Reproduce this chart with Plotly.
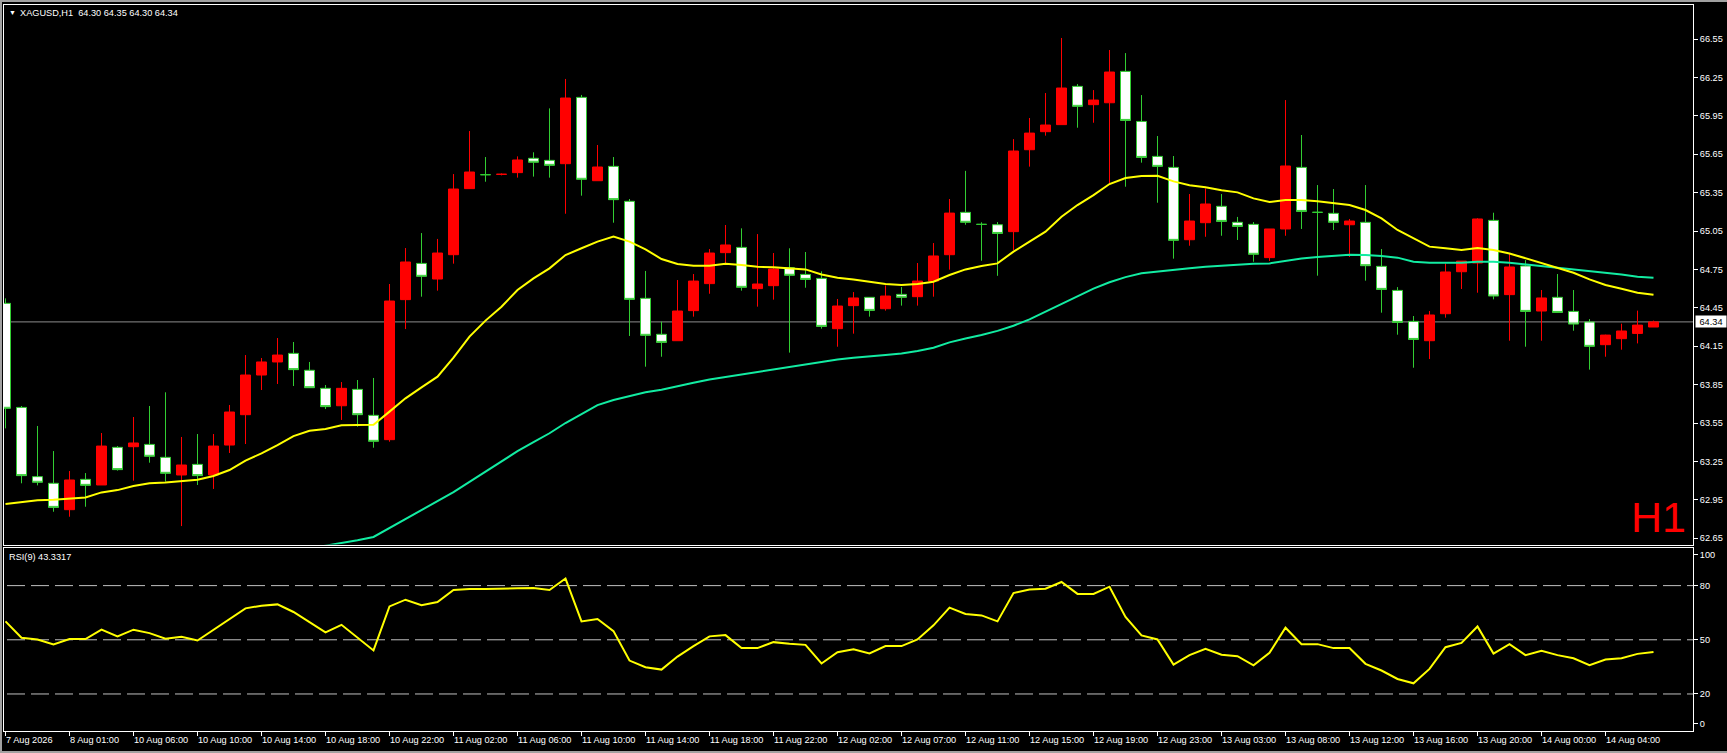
import plotly.graph_objects as go

# ---------------- data ----------------
symbol = "XAGUSD,H1"
rsi_label = "RSI(9) 43.3317"
period_label = "H1"

time_labels = ["7 Aug 2026", "8 Aug 01:00", "10 Aug 06:00", "10 Aug 10:00", "10 Aug 14:00",
               "10 Aug 18:00", "10 Aug 22:00", "11 Aug 02:00", "11 Aug 06:00", "11 Aug 10:00",
               "11 Aug 14:00", "11 Aug 18:00", "11 Aug 22:00", "12 Aug 02:00", "12 Aug 07:00",
               "12 Aug 11:00", "12 Aug 15:00", "12 Aug 19:00", "12 Aug 23:00", "13 Aug 03:00",
               "13 Aug 08:00", "13 Aug 12:00", "13 Aug 16:00", "13 Aug 20:00", "14 Aug 00:00",
               "14 Aug 04:00"]

price_ticks = [62.65, 62.95, 63.25, 63.55, 63.85, 64.15, 64.45, 64.75, 65.05, 65.35, 65.65, 65.95, 66.25, 66.55]
rsi_levels = [80, 50, 20]
rsi_tick_text = ["100", "80", "50", "20", "0"]

opens = [64.485, 63.672, 63.131, 63.079, 62.873, 63.110, 63.066, 63.360, 63.365, 63.383,
         63.282, 63.144, 63.227, 63.144, 63.378, 63.615, 63.925, 64.027, 64.094, 63.962,
         63.821, 63.685, 63.813, 63.610, 63.420, 64.514, 64.797, 64.675, 64.865, 65.381,
         65.490, 65.493, 65.506, 65.618, 65.602, 65.576, 66.094, 65.443, 65.555, 65.282,
         64.524, 64.243, 64.193, 64.428, 64.639, 64.881, 64.922, 64.600, 64.623, 64.763,
         64.711, 64.680, 64.287, 64.467, 64.532, 64.443, 64.555, 64.537, 64.659, 64.865,
         65.196, 65.102, 65.099, 65.045, 65.685, 65.826, 65.881, 66.180, 66.037, 66.052,
         66.297, 65.906, 65.633, 65.547, 64.982, 65.115, 65.243, 65.118, 65.102, 64.842,
         65.066, 65.547, 65.196, 65.188, 65.099, 65.118, 64.774, 64.586, 64.344, 64.193,
         64.404, 64.732, 64.800, 65.133, 64.553, 64.777, 64.425, 64.532, 64.422, 64.339,
         64.162, 64.209, 64.250, 64.30]
highs = [64.524, 63.683, 63.527, 63.331, 63.175, 63.159, 63.472, 63.370, 63.597, 63.683,
         63.790, 63.441, 63.464, 63.464, 63.691, 64.081, 64.058, 64.214, 64.183, 64.027,
         63.847, 63.870, 63.886, 63.902, 64.636, 64.917, 65.034, 64.988, 65.495, 65.831,
         65.628, 65.500, 65.633, 65.665, 66.008, 66.238, 66.113, 65.722, 65.628, 65.300,
         64.738, 64.342, 64.667, 64.714, 64.909, 65.097, 65.071, 65.026, 64.878, 64.915,
         64.886, 64.735, 64.519, 64.573, 64.532, 64.625, 64.612, 64.800, 64.956, 65.300,
         65.520, 65.118, 65.120, 65.768, 65.933, 66.128, 66.558, 66.198, 66.151, 66.464,
         66.440, 66.112, 65.792, 65.636, 65.339, 65.383, 65.339, 65.160, 65.120, 65.066,
         66.073, 65.800, 65.409, 65.378, 65.144, 65.409, 64.909, 64.612, 64.386, 64.425,
         64.797, 64.815, 65.150, 65.193, 64.875, 64.823, 64.589, 64.714, 64.589, 64.362,
         64.240, 64.326, 64.428, 64.35]
lows = [63.508, 63.079, 63.063, 62.857, 62.818, 62.896, 63.066, 63.178, 63.100, 63.240,
        63.092, 62.745, 63.066, 63.035, 63.316, 63.386, 63.808, 63.855, 63.839, 63.826,
        63.659, 63.574, 63.521, 63.357, 63.404, 64.284, 64.537, 64.584, 64.795, 65.381,
        65.435, 65.485, 65.467, 65.475, 65.467, 65.185, 65.326, 65.443, 65.115, 64.230,
        63.990, 64.068, 64.193, 64.381, 64.560, 64.797, 64.584, 64.459, 64.514, 64.100,
        64.607, 64.287, 64.146, 64.248, 64.381, 64.428, 64.467, 64.467, 64.537, 64.748,
        65.099, 64.818, 64.700, 64.902, 65.553, 65.795, 65.881, 65.857, 65.896, 65.422,
        65.396, 65.584, 65.271, 64.834, 64.935, 65.005, 65.013, 64.980, 64.810, 64.816,
        65.013, 65.066, 64.701, 65.058, 64.847, 64.662, 64.412, 64.240, 63.982, 64.050,
        64.373, 64.597, 64.568, 64.516, 64.193, 64.146, 64.193, 64.414, 64.271, 63.967,
        64.068, 64.123, 64.172, 64.30]
closes = [63.665, 63.139, 63.087, 62.891, 63.105, 63.063, 63.370, 63.186, 63.394, 63.290,
          63.157, 63.222, 63.139, 63.370, 63.636, 63.925, 64.027, 64.081, 63.967, 63.826,
          63.678, 63.821, 63.615, 63.407, 64.503, 64.808, 64.696, 64.878, 65.378, 65.511,
          65.490, 65.493, 65.605, 65.587, 65.563, 66.089, 65.454, 65.550, 65.295, 64.516,
          64.235, 64.180, 64.425, 64.659, 64.878, 64.941, 64.610, 64.636, 64.753, 64.704,
          64.672, 64.305, 64.464, 64.527, 64.430, 64.542, 64.532, 64.659, 64.855, 65.190,
          65.118, 65.102, 65.031, 65.675, 65.815, 65.878, 66.167, 66.024, 66.073, 66.292,
          65.914, 65.625, 65.555, 64.977, 65.128, 65.261, 65.125, 65.086, 64.868, 65.066,
          65.558, 65.203, 65.196, 65.118, 65.128, 64.779, 64.594, 64.336, 64.203, 64.394,
          64.730, 64.815, 65.144, 64.542, 64.769, 64.422, 64.527, 64.414, 64.323, 64.149,
          64.237, 64.269, 64.315, 64.34]

ma_fast = [62.917, 62.930, 62.946, 62.951, 62.961, 62.969, 63.008, 63.026, 63.058, 63.079,
           63.086, 63.099, 63.107, 63.136, 63.183, 63.257, 63.313, 63.378, 63.448, 63.490,
           63.503, 63.532, 63.537, 63.537, 63.639, 63.743, 63.829, 63.912, 64.061, 64.225,
           64.350, 64.459, 64.589, 64.680, 64.758, 64.862, 64.915, 64.967, 65.006, 64.967,
           64.907, 64.831, 64.792, 64.779, 64.779, 64.795, 64.785, 64.771, 64.766, 64.758,
           64.750, 64.711, 64.685, 64.672, 64.654, 64.636, 64.628, 64.636, 64.654, 64.706,
           64.750, 64.777, 64.797, 64.889, 64.967, 65.045, 65.162, 65.253, 65.331, 65.417,
           65.464, 65.480, 65.482, 65.438, 65.407, 65.391, 65.368, 65.352, 65.305, 65.277,
           65.292, 65.292, 65.282, 65.269, 65.253, 65.214, 65.149, 65.058, 64.990, 64.928,
           64.915, 64.902, 64.917, 64.901, 64.875, 64.836, 64.797, 64.758, 64.724, 64.672,
           64.628, 64.599, 64.568, 64.552]
ma_slow = [None] * 19 + [
           62.57, 62.59, 62.61, 62.635, 62.66, 62.73, 62.80, 62.87, 62.94, 63.01,
           63.09, 63.17, 63.25, 63.33, 63.40, 63.47, 63.55, 63.62, 63.69, 63.73,
           63.76, 63.79, 63.81, 63.84, 63.865, 63.89, 63.91, 63.925, 63.95, 63.97,
           63.99, 64.01, 64.03, 64.047, 64.060, 64.068, 64.081, 64.094, 64.112, 64.138,
           64.180, 64.211, 64.237, 64.27, 64.31, 64.36, 64.42, 64.48, 64.54, 64.60,
           64.65, 64.69, 64.72, 64.735, 64.748, 64.760, 64.770, 64.777, 64.789, 64.795,
           64.797, 64.818, 64.836, 64.847, 64.855, 64.865, 64.862, 64.855, 64.842, 64.810,
           64.802, 64.802, 64.802, 64.810, 64.810, 64.802, 64.789, 64.779, 64.763, 64.750,
           64.740, 64.724, 64.711, 64.693, 64.685]

rsi = [60.2, 51.1, 50.2, 47.4, 50.4, 50.4, 55.6, 51.9, 55.6, 53.7,
       50.6, 51.7, 49.6, 55.6, 61.7, 67.4, 68.9, 69.6, 65.4, 59.6,
       54.1, 58.3, 51.1, 44.1, 68.5, 72.2, 69.1, 70.9, 77.6, 78.1,
       78.1, 78.1, 78.5, 78.7, 77.6, 83.9, 60.2, 61.5, 54.8, 38.5,
       34.8, 33.5, 40.7, 46.5, 51.9, 52.6, 45.4, 45.4, 48.7, 47.8,
       47.2, 36.9, 43.1, 44.8, 42.4, 46.5, 46.5, 50.2, 58.0, 67.8,
       64.3, 63.5, 60.2, 75.9, 77.8, 78.3, 82.0, 75.4, 75.4, 79.4,
       62.6, 52.4, 50.2, 36.3, 41.5, 45.0, 41.7, 40.9, 35.9, 42.8,
       56.7, 47.6, 47.6, 45.4, 45.4, 36.7, 33.0, 28.3, 25.9, 33.9,
       45.9, 48.3, 57.4, 42.4, 47.6, 41.5, 43.9, 41.5, 39.8, 35.9,
       39.1, 39.8, 42.2, 43.3]

# ---------------- layout geometry (pixels) ----------------
W, H = 1727, 753
PLOT_L, PLOT_R = 4, 1693
MAIN_T, MAIN_B = 4.7, 544.5
RSI_T, RSI_B = 547.5, 731
BAR_PX = 16.0
BAR0_PX = 5.5
LABEL_STEP = 4

FONT = "Liberation Sans"
FS = 9.2
GREEN = "#32cd32"
RED = "#ff0000"
YELLOW = "#ffff00"
SLOW = "#12eca2"


def fx(p):
    return p / W


def fy(p):
    return 1 - p / H


bars = list(range(len(opens)))
x_range = [(PLOT_L - BAR0_PX) / BAR_PX, (PLOT_R - BAR0_PX) / BAR_PX]
label_bars = [i * LABEL_STEP for i in range(len(time_labels))]

fig = go.Figure()

fig.add_trace(go.Candlestick(
    x=bars, open=opens, high=highs, low=lows, close=closes,
    increasing=dict(line=dict(color=RED, width=1), fillcolor=RED),
    decreasing=dict(line=dict(color=GREEN, width=1), fillcolor="#ffffff"),
    whiskerwidth=0, hoverinfo="skip", showlegend=False, xaxis="x", yaxis="y"))

fig.add_trace(go.Scatter(x=bars, y=ma_slow, mode="lines", line=dict(color=SLOW, width=2),
                         hoverinfo="skip", showlegend=False, xaxis="x", yaxis="y"))
fig.add_trace(go.Scatter(x=bars, y=ma_fast, mode="lines", line=dict(color=YELLOW, width=2),
                         hoverinfo="skip", showlegend=False, xaxis="x", yaxis="y"))

fig.add_trace(go.Scatter(x=bars, y=rsi, mode="lines", line=dict(color=YELLOW, width=2),
                         hoverinfo="skip", showlegend=False, xaxis="x2", yaxis="y2"))

shapes = []
# outer grey frame
for (x0, y0, x1, y1) in [(0, 0, W, 2), (0, 0, 2, H), (0, H - 2, W, H)]:
    shapes.append(dict(type="rect", xref="paper", yref="paper", x0=fx(x0), x1=fx(x1),
                       y0=fy(y1), y1=fy(y0), fillcolor="#a0a0a0", line=dict(width=0), layer="above"))
# RSI level lines
for lv in rsi_levels:
    shapes.append(dict(type="line", xref="paper", yref="y2", x0=fx(PLOT_L + 3), x1=fx(PLOT_R),
                       y0=lv, y1=lv, line=dict(color="#c0c0c0", width=1, dash="18px,6px"), layer="below"))
# bid line
shapes.append(dict(type="line", xref="paper", yref="y", x0=fx(PLOT_L), x1=fx(PLOT_R),
                   y0=closes[-1], y1=closes[-1], line=dict(color="#8c8c8c", width=1), layer="below"))

annotations = []
annotations.append(dict(text="▼", xref="paper", yref="paper", x=fx(7), y=fy(12.7),
                        xanchor="left", yanchor="middle", showarrow=False,
                        font=dict(family=FONT, size=7, color="#ffffff")))
title_txt = "%s\u00a0\u00a0%.2f %.2f %.2f %.2f" % (symbol, opens[-1], highs[-1], lows[-1], closes[-1])
annotations.append(dict(text=title_txt, xref="paper", yref="paper", x=fx(18), y=fy(12.7),
                        xanchor="left", yanchor="middle", showarrow=False,
                        font=dict(family=FONT, size=FS, color="#ffffff")))
annotations.append(dict(text=rsi_label, xref="paper", yref="paper", x=fx(7), y=fy(557),
                        xanchor="left", yanchor="middle", showarrow=False,
                        font=dict(family=FONT, size=FS, color="#ffffff")))
annotations.append(dict(text=period_label, xref="paper", yref="paper", x=fx(1688), y=fy(517),
                        xanchor="right", yanchor="middle", showarrow=False,
                        font=dict(family=FONT, size=43, color=RED)))
annotations.append(dict(text="%.2f" % closes[-1], xref="paper", yref="y", x=fx(1695), y=closes[-1],
                        xanchor="left", yanchor="middle", showarrow=False, width=30, height=11,
                        bgcolor="#ffffff", borderpad=0,
                        font=dict(family=FONT, size=FS, color="#000000")))
for b, t in zip(label_bars, time_labels):
    annotations.append(dict(text=t, xref="x2", yref="paper", x=b, y=fy(740), xshift=-2,
                            xanchor="left", yanchor="middle", showarrow=False,
                            font=dict(family=FONT, size=FS, color="#ffffff")))

axis_common = dict(showgrid=False, zeroline=False, showline=True, mirror=True,
                   linecolor="#ffffff", linewidth=1)

fig.update_layout(
    width=W, height=H, margin=dict(l=0, r=0, t=0, b=0, pad=0),
    paper_bgcolor="#000000", plot_bgcolor="#000000",
    showlegend=False, boxgap=0.375, boxgroupgap=0,
    xaxis=dict(domain=[fx(PLOT_L), fx(PLOT_R)], range=x_range, anchor="y",
               showticklabels=False, ticks="", rangeslider=dict(visible=False), **axis_common),
    yaxis=dict(domain=[fy(MAIN_B), fy(MAIN_T)], range=[62.601, 66.818], anchor="x", side="right",
               tickvals=price_ticks, ticktext=["%.2f" % v for v in price_ticks],
               ticks="outside", ticklen=4, tickwidth=1, tickcolor="#ffffff",
               tickfont=dict(family=FONT, size=FS, color="#ffffff"), **axis_common),
    xaxis2=dict(domain=[fx(PLOT_L), fx(PLOT_R)], range=x_range, anchor="y2", matches="x",
                tickvals=label_bars, showticklabels=False, ticks="outside", ticklen=4,
                tickwidth=1, tickcolor="#ffffff", rangeslider=dict(visible=False), **axis_common),
    yaxis2=dict(domain=[fy(RSI_B), fy(RSI_T)], range=[-0.5, 101.1], anchor="x2", side="right",
                tickvals=[97.2, 80, 50, 20, 3.4], ticktext=rsi_tick_text,
                ticks="outside", ticklen=4, tickwidth=1, tickcolor="#ffffff",
                tickfont=dict(family=FONT, size=FS, color="#ffffff"), **axis_common),
    shapes=shapes, annotations=annotations,
)

fig.write_html("out.html", config={"displayModeBar": False},
               post_script="document.body.style.margin='0px';document.body.style.overflow='hidden';"
                           "document.documentElement.style.overflow='hidden';")
